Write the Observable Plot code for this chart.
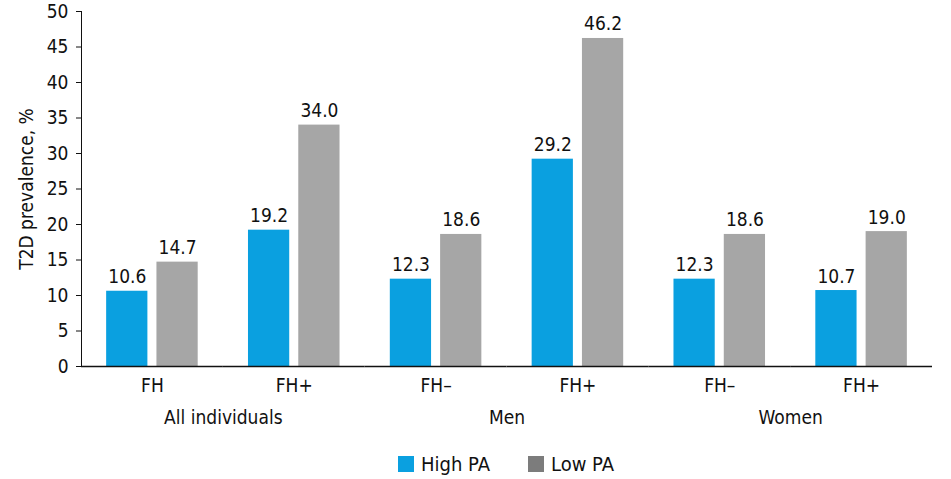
<!DOCTYPE html>
<html>
<head>
<meta charset="utf-8">
<script src="https://cdn.jsdelivr.net/npm/d3@7"></script>
<script src="https://cdn.jsdelivr.net/npm/@observablehq/plot@0.6"></script>
<style>
  html, body { margin: 0; padding: 0; background: #fff; }
  body { width: 951px; height: 479px; overflow: hidden; font-family: "Liberation Sans Narrow", "DejaVu Sans Condensed", sans-serif; }
  #chart svg { display: block; }
  .legend { position: relative; height: 39px; font-size: 20px; color: #111; }
  .legend .item { position: absolute; top: 12px; display: flex; align-items: center; }
  .legend .sw { width: 16px; height: 16px; margin-right: 7px; }
</style>
</head>
<body>
<div id="chart"></div>
<div class="legend">
  <div class="item" style="left:398px"><span class="sw" style="background:#0aa0e0"></span><span>High PA</span></div>
  <div class="item" style="left:528px"><span class="sw" style="background:#7c7c7c"></span><span>Low PA</span></div>
</div>
<script>
const groups = ["All individuals", "All individuals", "Men", "Men", "Women", "Women"];
const subgroups = ["FH", "FH+", "FH–", "FH+", "FH–", "FH+"];
const highPA = [10.6, 19.2, 12.3, 29.2, 12.3, 10.7];
const lowPA = [14.7, 34.0, 18.6, 46.2, 18.6, 19.0];
const series = ["High PA", "Low PA"];
const yTicks = [0, 5, 10, 15, 20, 25, 30, 35, 40, 45, 50];

const keys = subgroups.map((_, i) => String(i));
const rows = [];
keys.forEach((k, i) => {
  rows.push({key: k, series: series[0], value: highPA[i]});
  rows.push({key: k, series: series[1], value: lowPA[i]});
});
const groupLabels = [];
keys.forEach((k, i) => {
  if (i % 2 === 1) groupLabels.push({key: k, label: groups[i]});
});

const chart = Plot.plot({
  width: 951,
  height: 440,
  marginLeft: 81,
  marginRight: 19,
  marginTop: 11,
  marginBottom: 74,
  style: {fontFamily: '"Liberation Sans Narrow", "DejaVu Sans Condensed", sans-serif', fontSize: "19px", color: "#111"},
  fx: {domain: keys, padding: 0, round: false, label: null, tickSize: 0, tickPadding: 12, tickFormat: k => subgroups[+k]},
  x: {domain: series, paddingInner: 0.18, paddingOuter: 0.5, round: false, axis: null},
  y: {domain: [0, 50], ticks: yTicks, tickSize: 5, tickPadding: 8, line: true,
      label: "T2D prevalence, %", labelAnchor: "center", labelArrow: "none", labelOffset: 62},
  color: {domain: series, range: ["#0aa0e0", "#a6a6a6"]},
  marks: [
    Plot.barY(rows, {fx: "key", x: "series", y: "value", fill: "series"}),
    Plot.text(rows, {fx: "key", x: "series", y: "value", text: d => d.value.toFixed(1), lineAnchor: "bottom", dy: -8, fill: "#111"}),
    Plot.ruleY([0], {stroke: "#111", strokeWidth: 1.5}),
    Plot.text(groupLabels, {fx: "key", frameAnchor: "bottom-left", textAnchor: "middle", lineAnchor: "middle", dy: 51, text: "label", fill: "#111"})
  ]
});
document.getElementById("chart").appendChild(chart);
</script>
</body>
</html>
